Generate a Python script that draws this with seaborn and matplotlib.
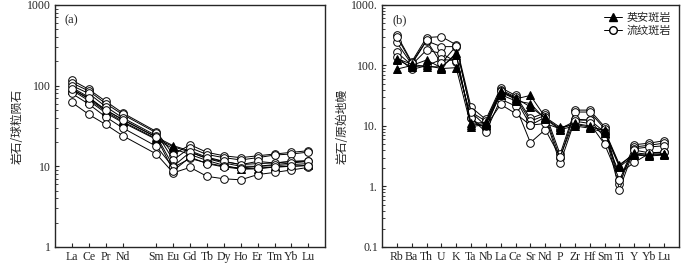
import numpy as np
import pandas as pd
import matplotlib
matplotlib.use("Agg")
import matplotlib.pyplot as plt
import seaborn as sns
from matplotlib.lines import Line2D
from matplotlib.ticker import LogLocator, NullFormatter

# ---------------- dados ----------------
ree = ['La', 'Ce', 'Pr', 'Nd', 'Sm', 'Eu', 'Gd', 'Tb', 'Dy', 'Ho', 'Er', 'Tm', 'Yb', 'Lu']
ree_pos = [0, 1, 2, 3, 5, 6, 7, 8, 9, 10, 11, 12, 13, 14]  # Pm vazio

ree_dacite = [
    [92, 68, 48, 36, 22, 17.5, 15, 12.5, 11, 10, 10, 10.2, 10.5, 10.8],
    [88, 65, 46, 35, 21.5, 16.5, 14, 11.8, 10.3, 9.2, 9.3, 9.8, 10, 10.3],
    [95, 72, 50, 38, 23, 18, 15.5, 13, 11.5, 10.5, 10.8, 11, 11.5, 11.8],
]
ree_rhyolite = [
    [117, 90, 64, 46, 27, 14, 18.5, 14.9, 13.5, 12.8, 13.5, 14.2, 14.9, 15.6],
    [108, 86, 60, 44, 26, 12, 17, 14, 12.8, 12.0, 12.8, 13.8, 14.2, 15],
    [100, 80, 55, 40, 24, 10, 15, 12.5, 11.5, 10.5, 11.5, 11, 11.5, 11.5],
    [80, 59, 41, 30, 17.7, 9.7, 12.5, 11, 10, 9.5, 10, 10.5, 11, 11.5],
    [62, 44, 33, 24, 14.2, 8.3, 9.7, 7.5, 7.0, 6.8, 7.9, 8.4, 9.0, 9.7],
    [90, 70, 50, 38, 23, 8.8, 13, 10.8, 9.8, 9.3, 9.5, 9.8, 10, 10.2],
]

spider = ['Rb', 'Ba', 'Th', 'U', 'K', 'Ta', 'Nb', 'La', 'Ce', 'Sr', 'Nd', 'P',
          'Zr', 'Hf', 'Sm', 'Ti', 'Y', 'Yb', 'Lu']
spider_pos = list(range(len(spider)))

spider_dacite = [
    [87, 100, 123, 92, 160, 10.3, 11, 36, 28, 32, 14, 9.5, 10.6, 9.6, 8.5, 2.3, 3.4, 3.3, 3.4],
    [125, 95, 100, 89, 92, 9.8, 10.5, 33, 26, 23.5, 13, 8.7, 10, 9.2, 7.8, 2.1, 3.3, 3.2, 3.3],
    [130, 105, 95, 95, 150, 11, 11.5, 38, 29, 20.7, 13.5, 9.0, 11, 10, 8.2, 2.2, 3.6, 3.4, 3.5],
]
spider_rhyolite = [
    [320, 115, 290, 300, 220, 20.5, 12.8, 43, 32, 13.3, 16.5, 3.4, 18.3, 18.3, 9.7, 1.26, 4.9, 5.2, 5.7],
    [240, 105, 255, 205, 205, 17, 12, 40, 30, 12, 15, 2.9, 17, 17, 9.0, 1.1, 4.5, 4.8, 5.2],
    [165, 102, 180, 158, 115, 13.3, 9, 38, 27.8, 10.3, 14, 2.4, 12.5, 12.5, 8.0, 0.89, 4.2, 4.5, 4.7],
    [140, 86, 99, 126, 120, 13.3, 8, 27.8, 21.3, 5.3, 8.7, 3.1, 13, 12.5, 6.5, 1.64, 2.5, 3.5, 3.7],
    [300, 110, 260, 108, 210, 17, 10, 22.7, 16.1, 10.3, 11, 9.0, 12, 11, 5.0, 1.3, 4.0, 3.6, 3.7],
]

# ---------------- estilo ----------------
sns.set_style('ticks')
plt.rcParams['font.family'] = ['Liberation Serif', 'Noto Sans CJK SC']
plt.rcParams['xtick.direction'] = 'in'
plt.rcParams['ytick.direction'] = 'in'
cjk = ['Noto Sans CJK SC', 'DejaVu Sans']

fig = plt.figure(figsize=(7, 2.63), dpi=100)
ax1 = fig.add_axes([0.0786, 0.061, 0.386, 0.92])
ax2 = fig.add_axes([0.5457, 0.061, 0.424, 0.92])


def draw(ax, pos, series, marker, face):
    for vals in series:
        sns.lineplot(x=pos, y=vals, ax=ax, color='black', linewidth=0.7,
                     marker=marker, markersize=5.5, markerfacecolor=face,
                     markeredgecolor='black', markeredgewidth=0.7, legend=False)


draw(ax1, ree_pos, ree_dacite, '^', 'black')
draw(ax1, ree_pos, ree_rhyolite, 'o', 'white')
draw(ax2, spider_pos, spider_rhyolite, 'o', 'white')
draw(ax2, spider_pos, spider_dacite, '^', 'black')

# painel (a)
ax1.set_yscale('log')
ax1.set_ylim(1, 1000)
ax1.set_xlim(-1, 15)
ax1.set_xticks(ree_pos)
ax1.set_xticklabels(ree, fontsize=8.5)
ax1.set_yticks([1, 10, 100, 1000])
ax1.set_yticklabels(['1', '10', '100', '1000'], fontsize=8.5)
ax1.set_ylabel('岩石/球粒陨石', family=cjk, fontsize=8.5, labelpad=2)
ax1.text(0.035, 0.96, '(a)', transform=ax1.transAxes, fontsize=9, va='top')

# painel (b)
ax2.set_yscale('log')
ax2.set_ylim(0.1, 1000)
ax2.set_xlim(-1, 19)
ax2.set_xticks(spider_pos)
ax2.set_xticklabels(spider, fontsize=8.5)
ax2.set_yticks([0.1, 1, 10, 100, 1000])
ax2.set_yticklabels(['0.1', '1.', '10.', '100.', '1000.'], fontsize=8.5)
ax2.set_ylabel('岩石/原始地幔', family=cjk, fontsize=8.5, labelpad=2)
ax2.text(0.035, 0.96, '(b)', transform=ax2.transAxes, fontsize=9, va='top')

for ax in (ax1, ax2):
    ax.set_xlabel('')
    ax.yaxis.set_minor_locator(LogLocator(base=10, subs=np.arange(2, 10), numticks=20))
    ax.yaxis.set_minor_formatter(NullFormatter())
    ax.tick_params(axis='both', which='major', length=3, width=0.8, pad=3)
    ax.tick_params(axis='y', which='minor', length=2, width=0.6)
    for s in ax.spines.values():
        s.set_linewidth(1.0)
        s.set_visible(True)

handles = [
    Line2D([], [], color='black', linewidth=0.7, marker='^', markersize=5.5,
           markerfacecolor='black', markeredgecolor='black'),
    Line2D([], [], color='black', linewidth=0.7, marker='o', markersize=5.5,
           markerfacecolor='white', markeredgecolor='black'),
]
ax2.legend(handles, ['英安斑岩', '流纹斑岩'], loc='upper right', frameon=False,
           prop={'family': cjk, 'size': 8}, handlelength=1.6, handletextpad=0.4,
           borderaxespad=0.3, labelspacing=0.2)

plt.savefig('out.png', dpi=100)
